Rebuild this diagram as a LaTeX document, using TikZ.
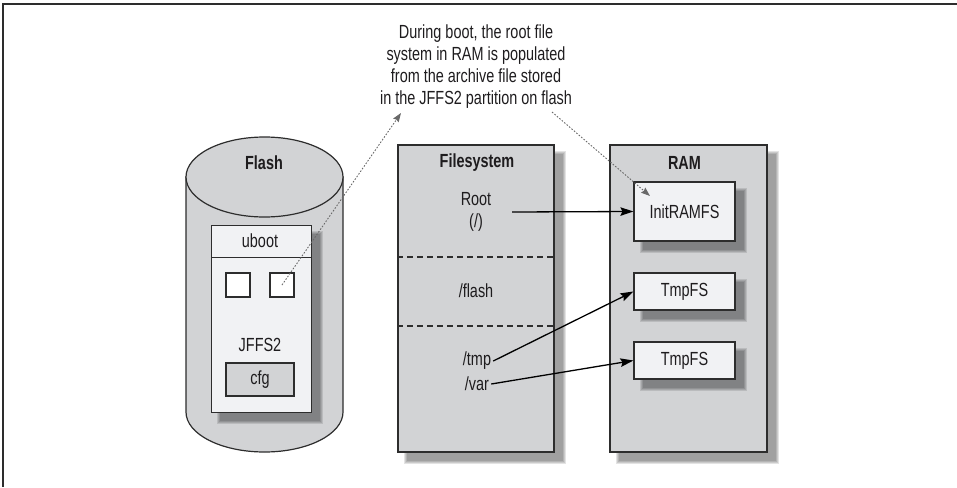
\documentclass[tikz,border=0pt]{standalone}
\usepackage{fontspec}
\setmainfont{Liberation Sans}[FakeStretch=0.76]
\usetikzlibrary{arrows.meta}
\definecolor{boxgray}{RGB}{210,211,213}
\definecolor{lightfill}{RGB}{241,242,244}
\definecolor{edgecol}{RGB}{45,45,45}
\definecolor{dotgray}{RGB}{105,105,105}
\definecolor{txt}{RGB}{30,28,30}
\newcommand\softshadow[4]{%
  \foreach \k in {0,1,2,3}{%
    \fill[black,opacity=0.11] ({#1+9-3+\k},{#2+9-3+\k}) rectangle ({#3+9+3-\k},{#4+9+3-\k});
  }}
\tikzset{
  every node/.style={text=txt, font=\fontsize{19}{22}\selectfont},
  bigbox/.style={draw=edgecol, line width=1.2pt, fill=boxgray, inner sep=0pt},
  lightbox/.style={draw=edgecol, line width=1.2pt, fill=lightfill, inner sep=0pt},
  whitebox/.style={draw=edgecol, line width=1.1pt, fill=white, inner sep=0pt, minimum size=24pt},
  lbl/.style={inner sep=2pt, align=center},
  title/.style={inner sep=2pt, font=\fontsize{19}{22}\selectfont\bfseries},
  solidarrow/.style={draw=black, line width=1.3pt, -{Stealth[length=13pt,width=8.5pt,inset=2pt]}},
  dotarrow/.style={draw=dotgray, line width=0.9pt, dash pattern=on 1.6pt off 1.6pt,
    -{Stealth[length=9pt,width=6.5pt,inset=1pt,fill=dotgray]}},
  sepline/.style={draw=edgecol, line width=1.1pt, dash pattern=on 6pt off 4pt},
}
\begin{document}
\begin{tikzpicture}[x=1pt, y=-1pt]
\useasboundingbox (0,0) rectangle (957,487);
% frame
\draw[edgecol, line width=2pt] (957,4.5) -- (3,4.5) -- (3,487);

% annotation
\node[lbl] (note) at (476,67) {During boot, the root file\\system in RAM is populated\\from the archive file stored\\in the JFFS2 partition on flash};

% ---------- Flash cylinder ----------
\path[draw=edgecol, fill=boxgray, line width=1.2pt] (186,177) -- (186,412)
  .. controls (186,434.1) and (221.1,452) .. (264.5,452)
  .. controls (307.9,452) and (343,434.1) .. (343,412) -- (343,177) -- cycle;
\draw[edgecol, fill=boxgray, line width=1.2pt] (264.5,177) ellipse [x radius=78.5pt, y radius=40pt];
\node[title] (flashlbl) at (264,163) {Flash};

\softshadow{210.5}{225}{310.5}{412}
\node[lightbox, anchor=north west, minimum width=100pt, minimum height=32pt] (uboot) at (210.5,225) {};
\node[lbl] (ubootlbl) at (260,241) {uboot};
\node[lightbox, anchor=north west, minimum width=100pt, minimum height=155pt] (jffs) at (210.5,257) {};
\node[whitebox] (sqa) at (238,285) {};
\node[whitebox] (sqb) at (282,285) {};
\node[lbl] (jffslbl) at (260,345) {JFFS2};
\node[bigbox, minimum width=68pt, minimum height=33pt] (cfg) at (260,379.5) {cfg};

% ---------- Filesystem ----------
\softshadow{398}{145}{554}{452}
\node[bigbox, minimum width=156pt, minimum height=307pt] (fs) at (476,298.5) {};
\node[title] (fslbl) at (477,163) {Filesystem};
\draw[sepline] (fs.west |- 0,257) -- (fs.east |- 0,257);
\draw[sepline] (fs.west |- 0,326) -- (fs.east |- 0,326);
\node[lbl] (root) at (476,212) {Root\\(/)};
\node[lbl] (flashdir) at (476,291) {/flash};
\node[lbl] (tmp) at (477,361) {/tmp};
\node[lbl] (var) at (477,384) {/var};

% ---------- RAM ----------
\softshadow{610}{145}{767}{452}
\node[bigbox, minimum width=157pt, minimum height=307pt] (ram) at (688.5,298.5) {};
\node[title] (ramlbl) at (684.5,163) {RAM};
\softshadow{634}{182}{735}{241}
\node[lightbox, minimum width=101pt, minimum height=59pt] (init) at (684.5,211.5) {InitRAMFS};
\softshadow{634}{273}{735}{310}
\node[lightbox, minimum width=101pt, minimum height=37pt] (tmpa) at (684.5,291.5) {TmpFS};
\softshadow{634}{342}{735}{379}
\node[lightbox, minimum width=101pt, minimum height=37pt] (tmpb) at (684.5,360.5) {TmpFS};

% ---------- connectors ----------
\coordinate (rootout) at (512,212);
\draw[solidarrow] (rootout) -- (init.west);
\draw[solidarrow] (tmp.east) -- (tmpa.west);
\draw[solidarrow] (var.east) -- (tmpb.west);

\coordinate (noteleft) at (401,113);
\coordinate (noteright) at (552,112);
\coordinate (inittip) at (650,196);
\draw[dotarrow] (sqb.center) -- (noteleft);
\draw[dotarrow] (noteright) -- (inittip);
\end{tikzpicture}
\end{document}
